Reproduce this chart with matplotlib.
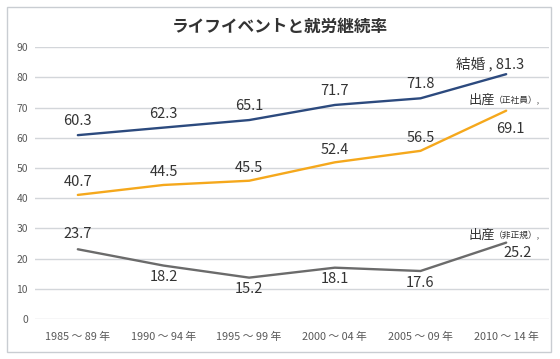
import matplotlib.pyplot as plt
from matplotlib.patches import Rectangle

plt.rcParams['font.family'] = ['Noto Sans CJK JP', 'DejaVu Sans']

periods = ['1985 ～ 89 年', '1990 ～ 94 年', '1995 ～ 99 年',
           '2000 ～ 04 年', '2005 ～ 09 年', '2010 ～ 14 年']

# positions as drawn in the picture, labels as printed
marriage = [60.9, 63.4, 65.9, 70.9, 73.1, 81.1]
birth_regular = [41.1, 44.4, 45.8, 51.9, 55.7, 69.0]
birth_irregular = [23.1, 17.7, 13.7, 17.0, 15.9, 25.3]

marriage_labels = ['60.3', '62.3', '65.1', '71.7', '71.8', '81.3']
regular_labels = ['40.7', '44.5', '45.5', '52.4', '56.5', '69.1']
irregular_labels = ['23.7', '18.2', '15.2', '18.1', '17.6', '25.2']

title = 'ライフイベントと就労継続率'

BLUE = '#2c4a7e'
ORANGE = '#f5a81c'
GRAY = '#6b6b6b'
TXT = '#333333'

fig = plt.figure(figsize=(5.6, 3.59), dpi=100)
fig.patches.append(Rectangle((7 / 560, 7 / 359), 544 / 560, 345 / 359,
                             transform=fig.transFigure, fill=False,
                             edgecolor='#c9cdd2', linewidth=1))
ax = fig.add_axes([35 / 560, 1 - 319 / 359, 514 / 560, 271.7 / 359])

x = list(range(len(periods)))
ax.plot(x, marriage, color=BLUE, lw=1.7, solid_capstyle='round')
ax.plot(x, birth_regular, color=ORANGE, lw=1.7, solid_capstyle='round')
ax.plot(x, birth_irregular, color=GRAY, lw=1.7, solid_capstyle='round')

ax.set_xlim(-0.5, len(periods) - 0.5)
ax.set_ylim(0, 90)
ax.set_yticks(range(0, 91, 10))
ax.set_xticks(x)
ax.set_xticklabels(periods)
ax.tick_params(length=0, labelsize=7.8, labelcolor='#595959')
ax.tick_params(axis='y', pad=5, labelsize=7.5)
ax.tick_params(axis='x', pad=9)
ax.grid(axis='y', color='#d3d6da', lw=1)
ax.set_axisbelow(True)
for s in ax.spines.values():
    s.set_visible(False)

fs = 10.5
for i in range(len(periods) - 1):
    ax.annotate(marriage_labels[i], (i, marriage[i]), xytext=(0, 10),
                textcoords='offset points', ha='center', va='center',
                fontsize=fs, color=TXT)
    ax.annotate(regular_labels[i], (i, birth_regular[i]), xytext=(0, 9),
                textcoords='offset points', ha='center', va='center',
                fontsize=fs, color=TXT)
    dy = 11 if i == 0 else -8.5
    ax.annotate(irregular_labels[i], (i, birth_irregular[i]), xytext=(0, dy),
                textcoords='offset points', ha='center', va='center',
                fontsize=fs, color=TXT)

# end-of-line labels
last = len(periods) - 1
ax.annotate('結婚 , ' + marriage_labels[last], (last, marriage[last]),
            xytext=(-36, 7.5), textcoords='offset points', ha='left',
            va='center', fontsize=fs, color=TXT)
ax.annotate('出産', (last, birth_regular[last]), xytext=(-27, 7.5),
            textcoords='offset points', ha='left', va='center',
            fontsize=9.5, color=TXT)
ax.annotate('（正社員）,', (last, birth_regular[last]), xytext=(-8.8, 7),
            textcoords='offset points', ha='left', va='center',
            fontsize=6.3, color=TXT)
ax.annotate(regular_labels[last], (last, birth_regular[last]),
            xytext=(3, -13), textcoords='offset points', ha='center',
            va='center', fontsize=fs, color=TXT)
ax.annotate('出産', (last, birth_irregular[last]), xytext=(-27, 5.5),
            textcoords='offset points', ha='left', va='center',
            fontsize=9.5, color=TXT)
ax.annotate('（非正規）,', (last, birth_irregular[last]), xytext=(-8.8, 5),
            textcoords='offset points', ha='left', va='center',
            fontsize=6.3, color=TXT)
ax.annotate(irregular_labels[last], (last, birth_irregular[last]),
            xytext=(8, -7.5), textcoords='offset points', ha='center',
            va='center', fontsize=fs, color=TXT)

fig.text(0.5, 1 - 27 / 359, title, ha='center', va='center',
         fontsize=12, fontweight='bold', color='#333333')

fig.savefig('out.png', dpi=100)
